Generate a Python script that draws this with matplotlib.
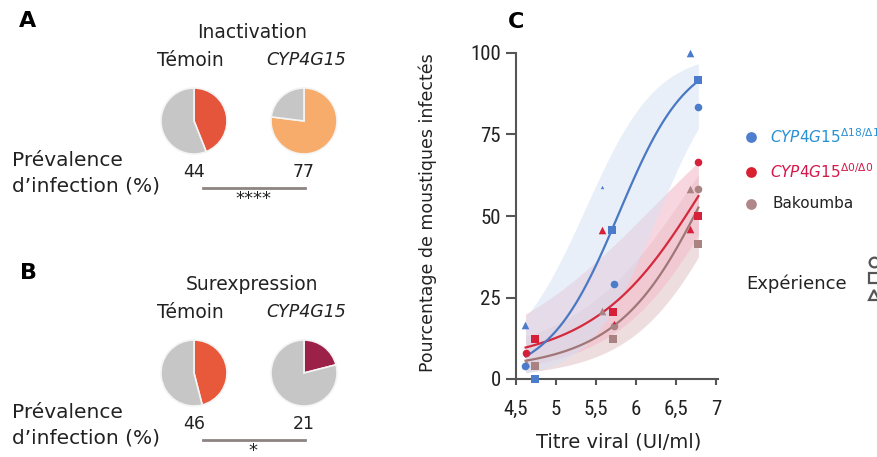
import numpy as np
import matplotlib
matplotlib.use('Agg')
import matplotlib.pyplot as plt
from matplotlib import font_manager

plt.rcParams['font.family'] = ['DejaVu Sans']
available = {f.name for f in font_manager.fontManager.ttflist}
narrow = 'DejaVu Sans'
for cand in ['Liberation Sans Narrow', 'Roboto Condensed', 'Open Sans Condensed', 'DejaVu Sans Condensed']:
    if cand in available:
        narrow = cand
        break

# --- panels A/B: pie data (prevalence %) ---
pie_labels = ['Témoin', 'CYP4G15']
prev_inactivation = [44, 77]
prev_surexpression = [46, 21]
colors_inactivation = ['#e4553c', '#f8ac6b']
colors_surexpression = ['#e8583b', '#9b2148']
stars_inactivation = '****'
stars_surexpression = '*'

# --- panel C: % infected vs viral titre, one list per experiment (o, s, ^) ---
blue_x = {'o': [4.61, 5.72, 6.78], 's': [4.74, 5.70, 6.78], '^': [4.61, 6.67]}
blue_y = {'o': [4.0, 29.1, 83.3], 's': [0.0, 45.6, 91.7], '^': [16.6, 100.0]}
blue_small = ([5.57], [59.0])
red_x = {'o': [4.62, 6.78], 's': [4.74, 5.71, 6.78], '^': [5.57, 6.67]}
red_y = {'o': [8.1, 66.6], 's': [12.3, 20.7, 50.0], '^': [45.8, 46.0]}
red_small = ([5.72], [17.6])
brown_x = {'o': [5.72, 6.78], 's': [4.74, 5.71, 6.78], '^': [4.62, 5.57, 6.67]}
brown_y = {'o': [16.3, 58.3], 's': [4.0, 12.3, 41.5], '^': [5.0, 21.0, 58.3]}

# fitted curves and confidence bands
curve_x = [4.62, 5.0, 5.5, 6.0, 6.5, 6.78]
blue_fit = [7, 14, 37, 62, 84, 91.7]
blue_hi = [18, 35, 61, 81, 93, 97]
blue_lo = [2, 4, 14, 36, 64, 76]
red_fit = [9.5, 13, 19, 29, 46, 56]
red_hi = [19, 28, 36, 46, 60, 67]
red_lo = [4, 6, 11, 19, 34, 44]
brown_fit = [5.5, 8, 12.5, 22, 41, 52]
brown_hi = [13, 17, 24, 36, 54, 62]
brown_lo = [2, 3.5, 7, 13, 28, 37]

x_ticks = [4.5, 5, 5.5, 6, 6.5, 7]
x_ticklabels = ['4,5', '5', '5,5', '6', '6,5', '7']
y_ticks = [0, 25, 50, 75, 100]

W, H = 877, 457
fig = plt.figure(figsize=(W / 100, H / 100), dpi=100)

# overlay in pixel coordinates (y measured from top)
ov = fig.add_axes([0, 0, 1, 1])
ov.set_xlim(0, W)
ov.set_ylim(0, H)
ov.axis('off')


def T(x, y, s, **kw):
    kw.setdefault('ha', 'center')
    kw.setdefault('va', 'center')
    kw.setdefault('color', '#222222')
    ov.text(x, H - y, s, **kw)


def draw_block(y0, letter, title, prev, cols, stars):
    T(28, y0 - 2, letter, fontsize=16, fontweight='bold', color='black')
    T(252, y0 + 10, title, fontsize=13.5)
    T(190, y0 + 37, pie_labels[0], fontsize=13.5)
    T(306, y0 + 37, pie_labels[1], fontsize=12.5, style='italic')
    centers = [(194, y0 + 98), (304, y0 + 98)]
    for (cx, cy), p, c in zip(centers, prev, cols):
        ov.pie([p, 100 - p], colors=[c, '#c6c6c6'], startangle=90, counterclock=False,
               center=(cx, H - cy), radius=33, frame=True,
               wedgeprops=dict(edgecolor='#f4f4f4', linewidth=1.2))
    T(12, y0 + 138, 'Prévalence', fontsize=14.5, ha='left')
    T(12, y0 + 163, 'd\u2019infection (%)', fontsize=14.5, ha='left')
    T(194, y0 + 149, str(prev[0]), fontsize=12.5)
    T(304, y0 + 149, str(prev[1]), fontsize=12.5)
    ov.plot([203, 305], [H - (y0 + 165), H - (y0 + 165)], color='#8c8480', lw=2)
    T(253, y0 + 176, stars, fontsize=13)


draw_block(23, 'A', 'Inactivation', prev_inactivation, colors_inactivation, stars_inactivation)
draw_block(275, 'B', 'Surexpression', prev_surexpression, colors_surexpression, stars_surexpression)
ov.set_xlim(0, W)
ov.set_ylim(0, H)
ov.set_aspect('auto')

T(516, 22, 'C', fontsize=16, fontweight='bold', color='black')

# --- panel C ---
ax = fig.add_axes([516 / W, 78 / H, 202.4 / W, 326 / H])
ax.set_xlim(4.5, 7.03)
ax.set_ylim(0, 100)

xs = np.linspace(curve_x[0], curve_x[-1], 120)


def smooth(vals, deg=2):
    p = np.clip(np.array(vals) / 100.0, 1e-3, 1 - 1e-3)
    coef = np.polyfit(curve_x, np.log(p / (1 - p)), deg)
    return 100 / (1 + np.exp(-np.polyval(coef, xs)))


groups = [
    (brown_fit, brown_lo, brown_hi, '#a07676', '#e0c2c6', 0.55, brown_x, brown_y, '#a98282', None),
    (red_fit, red_lo, red_hi, '#d42a3c', '#f4bccb', 0.6, red_x, red_y, '#d6203a', red_small),
    (blue_fit, blue_lo, blue_hi, '#4a78c2', '#d3e1f4', 0.5, blue_x, blue_y, '#4b7ccc', blue_small),
]
for fit, lo, hi, lc, bc, al, gx, gy, mc, small in groups:
    ax.fill_between(xs, smooth(lo), smooth(hi), color=bc, alpha=al, lw=0)
for fit, lo, hi, lc, bc, al, gx, gy, mc, small in groups:
    ax.plot(xs, smooth(fit), color=lc, lw=1.6)
for fit, lo, hi, lc, bc, al, gx, gy, mc, small in groups:
    for m in ['o', 's', '^']:
        ax.scatter(gx[m], gy[m], marker=m, s=30, color=mc, lw=0, clip_on=False, zorder=3)
    if small is not None:
        ax.scatter(small[0], small[1], marker='^', s=6, color=mc, lw=0, zorder=3)

for s in ['top', 'right']:
    ax.spines[s].set_visible(False)
for s in ['left', 'bottom']:
    ax.spines[s].set_color('#555555')
    ax.spines[s].set_linewidth(1.5)
ax.set_xticks(x_ticks)
ax.set_xticklabels(x_ticklabels)
ax.set_yticks(y_ticks)
ax.tick_params(axis='y', length=7, width=1.5, color='#555555', pad=4, labelsize=15)
ax.tick_params(axis='x', length=4, width=1.5, color='#555555', pad=11, labelsize=15)
for lab in ax.get_xticklabels() + ax.get_yticklabels():
    lab.set_family([narrow, 'DejaVu Sans'])
    lab.set_color('#222222')
ax.set_xlabel('Titre viral (UI/ml)', fontsize=14, color='#222222')
ax.set_ylabel('Pourcentage de moustiques infectés', fontsize=12.5, color='#222222')
ax.xaxis.set_label_coords(0.505, -0.165)
ax.yaxis.set_label_coords(-0.39, 0.51)

# --- legend ---
leg_y = [137, 172, 204]
leg_c = ['#4d7fcf', '#d9202f', '#b08686']
for y, c in zip(leg_y, leg_c):
    ov.scatter([751], [H - y], s=60, color=c, lw=0)
T(770, 137, r'$\mathit{CYP4G15}^{\Delta 18/\Delta 18}$', fontsize=11, ha='left', color='#2a90d4')
T(770, 172, r'$\mathit{CYP4G15}^{\Delta 0/\Delta 0}$', fontsize=11, ha='left', color='#d4184a')
T(773, 204, 'Bakoumba', fontsize=11, ha='left')

T(746, 284, 'Expérience', fontsize=13, ha='left')
for y, m in zip([262, 278, 295], ['o', 's', '^']):
    ov.plot([874], [H - y], marker=m, ms=7, mfc='none', mec='#555555', mew=1.6, clip_on=False)

fig.savefig('out.png', dpi=100)
